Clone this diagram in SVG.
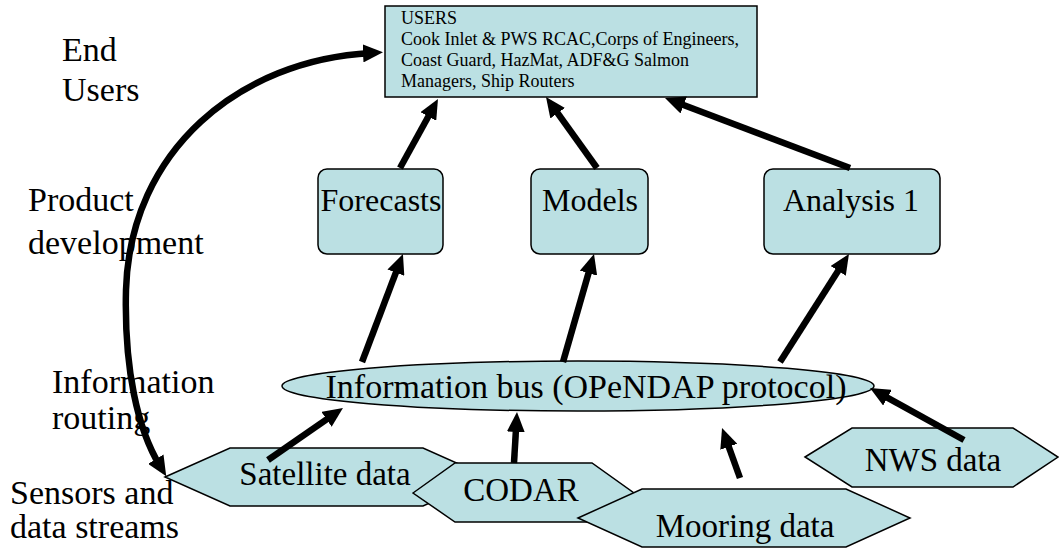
<svg xmlns="http://www.w3.org/2000/svg" width="1059" height="550" viewBox="0 0 1059 550">
<defs>
<style>
.box{fill:#BBE0E3;stroke:#000;stroke-width:1.5}
.t{font-family:"Liberation Serif","Times New Roman",serif;fill:#000}
.lbl{font-size:34px}
.node{font-size:33px;text-anchor:middle}
.rnode{font-size:32px;text-anchor:middle}
.users{font-size:18px}
.arr{fill:none;stroke:#000;stroke-width:6.5;marker-end:url(#ah)}
</style>
<marker id="ah" markerUnits="userSpaceOnUse" viewBox="0 0 20 18" markerWidth="20" markerHeight="18" refX="8" refY="9" orient="auto-start-reverse">
<path d="M0,0 L20,9 L0,18 z" fill="#000"/>
</marker>
</defs>
<rect width="1059" height="550" fill="#fff"/>
<g id="side-labels" class="t lbl">
<text x="62" y="61">End</text>
<text x="62" y="101">Users</text>
<text x="28" y="211">Product</text>
<text x="28" y="254">development</text>
<text x="52" y="393">Information</text>
<text x="52" y="429">routing</text>
<text x="10" y="504">Sensors and</text>
<text x="10" y="538">data streams</text>
</g>
<g id="users">
<rect class="box" x="385" y="6" width="372" height="91"/>
<text class="t users" x="401" y="24">USERS</text>
<text class="t users" x="401" y="45">Cook Inlet &amp; PWS RCAC,Corps of Engineers,</text>
<text class="t users" x="401" y="66">Coast Guard, HazMat, ADF&amp;G Salmon</text>
<text class="t users" x="401" y="87">Managers, Ship Routers</text>
</g>
<g id="forecasts">
<rect class="box" x="318" y="169" width="125" height="85" rx="9"/>
<text class="t rnode" x="381" y="211">Forecasts</text>
</g>
<g id="models">
<rect class="box" x="531" y="169" width="117" height="85" rx="9"/>
<text class="t rnode" x="590" y="211">Models</text>
</g>
<g id="analysis">
<rect class="box" x="764" y="169" width="176" height="85" rx="9"/>
<text class="t rnode" x="851" y="211">Analysis 1</text>
</g>
<g id="bus">
<ellipse class="box" cx="578" cy="386" rx="296" ry="25"/>
<text class="t node" style="font-size:34px" x="586" y="398">Information bus (OPeNDAP protocol)</text>
</g>
<g id="nws">
<polygon class="box" points="805,457 852,428 1013,428 1058,457 1013,487 852,487"/>
<text class="t node" x="933" y="471">NWS data</text>
</g>
<g id="satellite">
<polygon class="box" points="165,477 230,448 423,448 488,477 423,506 230,506"/>
<text class="t node" x="325" y="485">Satellite data</text>
</g>
<g id="codar">
<polygon class="box" points="413,493 455,463 592,463 634,493 592,522 455,522"/>
<text class="t node" x="521" y="501">CODAR</text>
</g>
<g id="mooring">
<polygon class="box" points="578,518 642,489 846,489 910,518 846,547 642,547"/>
<text class="t node" x="745" y="537">Mooring data</text>
</g>
<g id="connectors">
<path class="arr" d="M400,168 L432.2,109.5"/>
<path class="arr" d="M597,168 L553,106.7"/>
<path class="arr" d="M850,168 L676.2,102.2"/>
<path class="arr" d="M362,362 L398.7,265.2"/>
<path class="arr" d="M563,362 L590.7,265.5"/>
<path class="arr" d="M780,362 L842.5,264.1"/>
<path class="arr" d="M268,460 L333.1,414.8"/>
<path class="arr" d="M514,463 L516.3,424"/>
<path class="arr" d="M740,478 L726.1,439.3"/>
<path class="arr" d="M964,440 L880.5,393.8"/>
<path class="arr" style="marker-start:url(#ah)" d="M371,53 C240,60 130,150 126,290 C124,370 138,430 160,466"/>
</g>
</svg>
